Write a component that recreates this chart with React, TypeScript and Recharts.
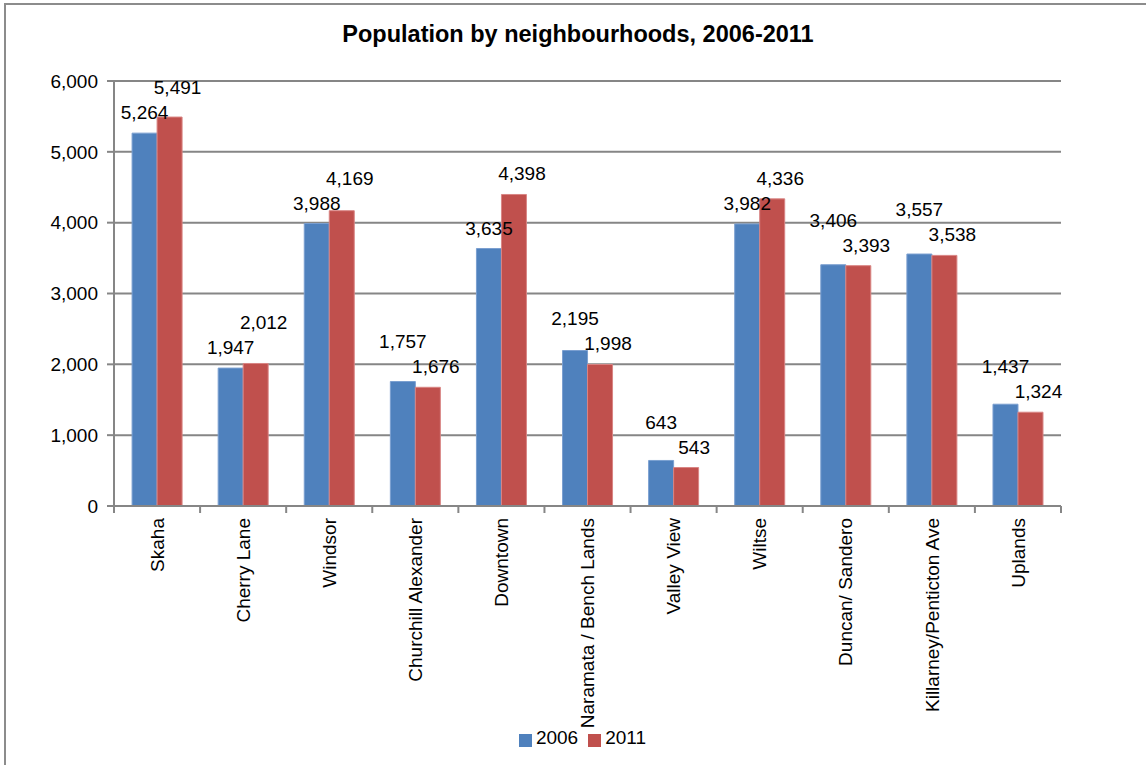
import React from "react"
import { BarChart, Bar, XAxis, YAxis, CartesianGrid, Legend, LabelList } from "recharts"

const neighbourhoods = [
  "Skaha",
  "Cherry Lane",
  "Windsor",
  "Churchill Alexander",
  "Downtown",
  "Naramata / Bench Lands",
  "Valley View",
  "Wiltse",
  "Duncan/ Sandero",
  "Killarney/Penticton Ave",
  "Uplands",
]
const pop2006 = [5264, 1947, 3988, 1757, 3635, 2195, 643, 3982, 3406, 3557, 1437]
const pop2011 = [5491, 2012, 4169, 1676, 4398, 1998, 543, 4336, 3393, 3538, 1324]
const yTicks = [0, 1000, 2000, 3000, 4000, 5000, 6000]

const data = neighbourhoods.map((name, i) => ({ name, y2006: pop2006[i], y2011: pop2011[i] }))

const FONT = "'Liberation Sans', Arial, sans-serif"
const GREY = "#868686"
const fmt = (v: any) => Number(v).toLocaleString("en-US")

const W = 1146
const H = 765
const LEFT = 114
const RIGHT = 1061
const HALF_BAND = (RIGHT - LEFT) / neighbourhoods.length / 2

function CategoryTick(props: any) {
  const { x, y, payload, index } = props
  const last = index === neighbourhoods.length - 1
  return (
    <g>
      <line x1={x - HALF_BAND} x2={x - HALF_BAND} y1={y - 8} y2={y - 1} stroke={GREY} strokeWidth={2} />
      {last && <line x1={x + HALF_BAND} x2={x + HALF_BAND} y1={y - 8} y2={y - 1} stroke={GREY} strokeWidth={2} />}
      <text
        x={x}
        y={y + 4}
        transform={`rotate(-90, ${x}, ${y + 4})`}
        textAnchor="end"
        dy="0.35em"
        fontSize={19}
        fontFamily={FONT}
        fill="#000"
      >
        {payload.value}
      </text>
    </g>
  )
}

// labels sit ~20px over their bar; the taller bar's label is pushed above the other one
const makeLabel = (own: number[], other: number[], dx: number) => (props: any) => {
  const { x, y, width, height, value, index } = props
  const k = height / value
  const otherTop = y + height - other[index] * k
  let center = y - 21
  if (own[index] >= other[index]) center = Math.min(center, otherTop - 21 - 25)
  return (
    <text x={x + width / 2 + dx} y={center + 7} textAnchor="middle" fontSize={19} fontFamily={FONT} fill="#000">
      {fmt(value)}
    </text>
  )
}

export default function App() {
  return (
    <div style={{ position: "absolute", left: 0, top: 0, width: W, height: H, overflow: "hidden", background: "#fff" }}>
      <div
        style={{
          position: "absolute",
          left: 4,
          top: 3,
          width: 1300,
          height: 900,
          border: "2px solid #8c8c8c",
        }}
      />
      <div
        style={{
          position: "absolute",
          top: 21,
          left: 0,
          width: 1156,
          textAlign: "center",
          fontFamily: FONT,
          fontWeight: "bold",
          fontSize: 23.5,
        }}
      >
        Population by neighbourhoods, 2006-2011
      </div>
      <div style={{ position: "absolute", left: 0, top: 0 }}>
        <BarChart
          width={W}
          height={H}
          data={data}
          margin={{ top: 81, right: W - RIGHT, left: 0, bottom: 8 }}
          barCategoryGap="21%"
          barGap={0}
        >
          <CartesianGrid vertical={false} stroke={GREY} strokeWidth={2} />
          <XAxis
            dataKey="name"
            height={221}
            interval={0}
            tickLine={false}
            axisLine={{ stroke: GREY, strokeWidth: 2 }}
            tick={<CategoryTick />}
          />
          <YAxis
            width={LEFT}
            domain={[0, 6000]}
            ticks={yTicks}
            tickFormatter={fmt}
            tickSize={7}
            tickMargin={9}
            axisLine={{ stroke: GREY, strokeWidth: 2 }}
            tickLine={{ stroke: GREY, strokeWidth: 2 }}
            tick={{ fill: "#000", fontSize: 19, fontFamily: FONT }}
          />
          <Legend
            verticalAlign="bottom"
            align="center"
            height={30}
            iconType="square"
            iconSize={13}
            wrapperStyle={{ left: LEFT, width: RIGHT - LEFT }}
            formatter={(v: any) => (
              <span style={{ color: "#000", fontSize: 19, fontFamily: FONT }}>{v}</span>
            )}
          />
          <Bar dataKey="y2006" name="2006" fill="#4F81BD" stroke="#7a9fd0" strokeWidth={1} isAnimationActive={false}>
            <LabelList dataKey="y2006" content={makeLabel(pop2006, pop2011, 0)} />
          </Bar>
          <Bar dataKey="y2011" name="2011" fill="#C0504D" stroke="#d98584" strokeWidth={1} isAnimationActive={false}>
            <LabelList dataKey="y2011" content={makeLabel(pop2011, pop2006, 8)} />
          </Bar>
        </BarChart>
      </div>
    </div>
  )
}
